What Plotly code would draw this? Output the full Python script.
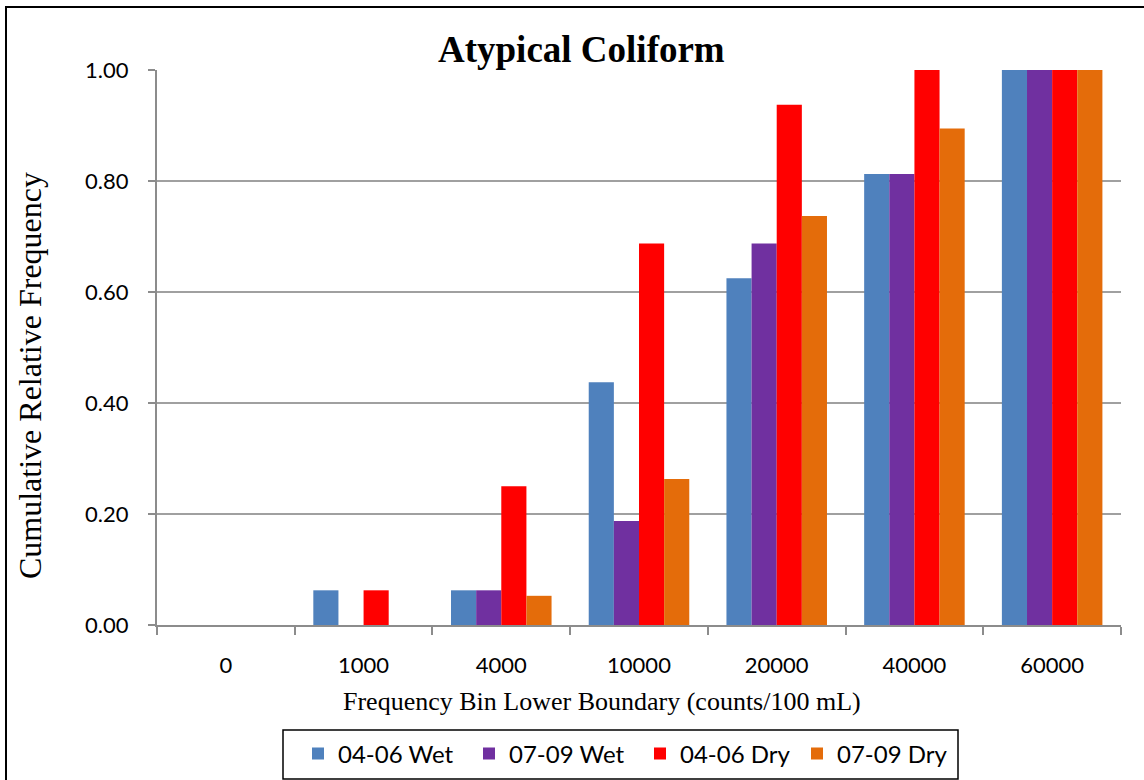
import plotly.graph_objects as go

# Frequency bins (lower boundary, counts/100 mL)
bins = ["0", "1000", "4000", "10000", "20000", "40000", "60000"]

# Cumulative relative frequency per period / season
wet_04_06 = [0.0, 0.0625, 0.0625, 0.4375, 0.625, 0.8125, 1.0]
wet_07_09 = [0.0, 0.0, 0.0625, 0.1875, 0.6875, 0.8125, 1.0]
dry_04_06 = [0.0, 0.0625, 0.25, 0.6875, 0.9375, 1.0, 1.0]
dry_07_09 = [0.0, 0.0, 0.0526, 0.2632, 0.7368, 0.8947, 1.0]

series_names = ["04-06 Wet", "07-09 Wet", "04-06 Dry", "07-09 Dry"]
series_values = [wet_04_06, wet_07_09, dry_04_06, dry_07_09]
series_colors = ["#4F81BD", "#7030A0", "#FF0000", "#E46C0A"]
legend_widths = [126, 126, 112, 110]

W, H = 1144, 780
L, R, T, B = 157, 23, 70, 155
pw, ph = W - L - R, H - T - B


def px_x(x):
    return (x - L) / pw


def px_y(y):
    return (H - B - y) / ph


fig = go.Figure()
for name, vals, col, lw in zip(series_names, series_values, series_colors, legend_widths):
    fig.add_trace(go.Bar(
        x=bins, y=vals, name=name, legendwidth=lw,
        marker=dict(color=col, line=dict(width=0)),
    ))

tick_font = dict(family="Lato", size=22, color="#000000")
serif = "Liberation Serif"

fig.update_layout(
    width=W, height=H,
    margin=dict(l=L, r=R, t=T, b=B, autoexpand=False),
    paper_bgcolor="white", plot_bgcolor="white",
    barmode="group", bargap=0.27, bargroupgap=0,
    showlegend=True,
    legend=dict(
        orientation="h", xanchor="left", yanchor="middle",
        x=px_x(298), y=px_y(754),
        font=dict(family="Lato", size=24, color="#000000"),
        borderwidth=0, bgcolor="rgba(0,0,0,0)",
        itemwidth=30, traceorder="normal",
    ),
    xaxis=dict(
        type="category", tickson="boundaries",
        ticks="outside", ticklen=8, tickcolor="#8C8C8C", tickwidth=2,
        showline=True, linecolor="#8C8C8C", linewidth=2,
        showgrid=False, tickfont=tick_font, ticklabelstandoff=20,
    ),
    yaxis=dict(
        range=[0, 1], dtick=0.2, tickformat=".2f",
        ticks="outside", ticklen=7, tickcolor="#8C8C8C", tickwidth=2,
        showline=True, linecolor="#8C8C8C", linewidth=2,
        showgrid=True, gridcolor="#A0A0A0", gridwidth=1.5,
        zeroline=False, tickfont=tick_font, ticklabelstandoff=15,
    ),
    annotations=[
        dict(text="<b>Atypical Coliform</b>", x=px_x(581), y=px_y(50),
             xref="paper", yref="paper", showarrow=False,
             xanchor="center", yanchor="middle",
             font=dict(family=serif, size=37, color="#000000")),
        dict(text="Cumulative Relative Frequency", x=px_x(30), y=px_y(376),
             xref="paper", yref="paper", showarrow=False, textangle=-90,
             xanchor="center", yanchor="middle",
             font=dict(family=serif, size=32, color="#000000")),
        dict(text="Frequency Bin Lower Boundary (counts/100 mL)",
             x=px_x(602), y=px_y(701),
             xref="paper", yref="paper", showarrow=False,
             xanchor="center", yanchor="middle",
             font=dict(family=serif, size=26, color="#000000")),
    ],
    shapes=[
        # outer frame
        dict(type="rect", xref="paper", yref="paper",
             x0=px_x(6), x1=px_x(1160), y0=px_y(7), y1=px_y(800),
             line=dict(color="#000000", width=2), fillcolor="rgba(0,0,0,0)"),
        # legend frame
        dict(type="rect", xref="paper", yref="paper",
             x0=px_x(283), x1=px_x(958), y0=px_y(730), y1=px_y(779),
             line=dict(color="#000000", width=1.5), fillcolor="rgba(0,0,0,0)"),
    ],
)

fig.write_html("out.html")
